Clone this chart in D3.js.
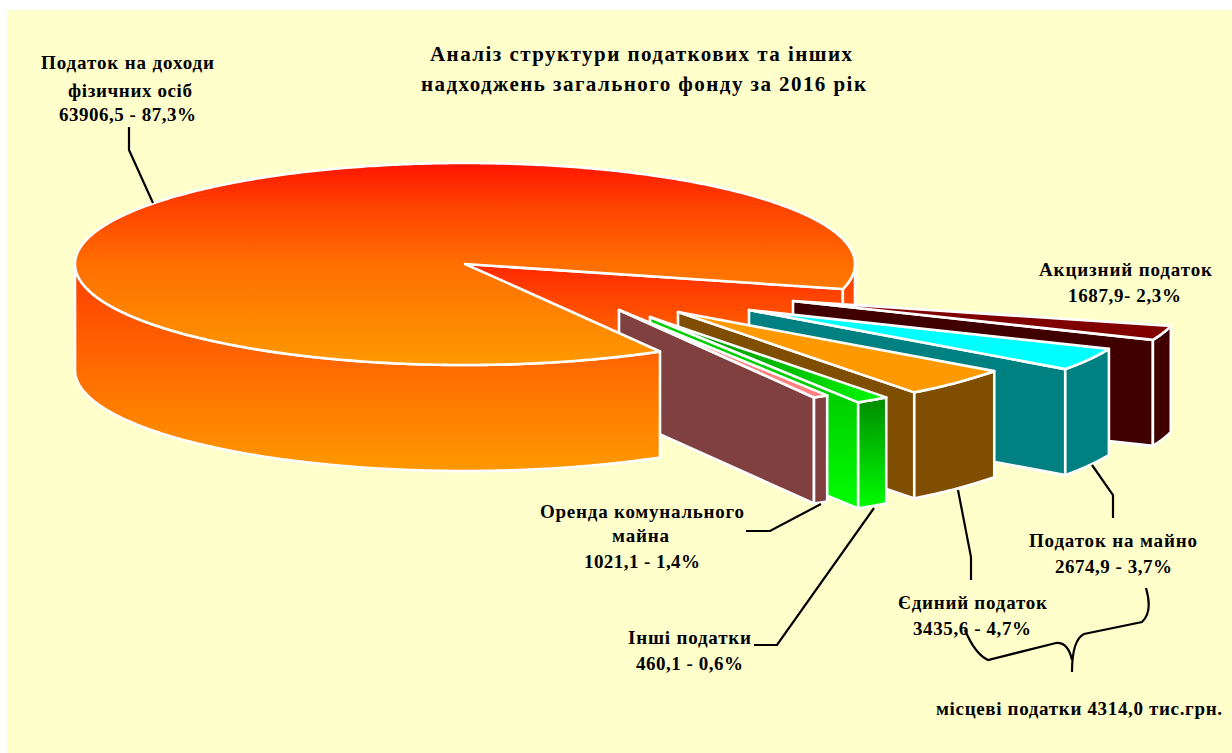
<!DOCTYPE html>
<html><head><meta charset="utf-8">
<script src="https://cdn.jsdelivr.net/npm/d3@7/dist/d3.min.js"></script>
<style>html,body{margin:0;padding:0;background:#fff}svg{display:block}</style>
</head><body><svg id="c" width="1232" height="753"></svg>
<script>
// ---- data ----
const categories = ["Податок на доходи фізичних осіб","Акцизний податок","Податок на майно","Єдиний податок","Оренда комунального майна","Інші податки"];
const values = [63906.5, 1687.9, 2674.9, 3435.6, 1021.1, 460.1];
const titleLines = ["Аналіз структури податкових та інших","надходжень загального фонду за 2016 рік"];

// ---- layout and style ----
const W = 1232, H = 753;
const rx = 390, ry = 101, depth = 106;
const firstAngle = 150 * Math.PI / 180;
const apexes = [[465,264],[793,301],[749,310],[678,312],[650,317],[619,310]];
const topFills = ["url(#bigTop)","#800000","#00FFFF","#FF9900","url(#greenTop)","#FF8080"];
const endFills = ["url(#bigInner)","#400000","#008080","#7F4E00","url(#greenInner)","#804040"];
const outerFills = ["url(#bigWall)","#400000","#008080","#7F4E00","url(#greenOuter)","#804040"];
const labels = [
 {t:titleLines[0],x0:430,x1:852,y:61,s:21},
 {t:titleLines[1],x0:421,x1:866,y:91,s:21},
 {t:"Податок на доходи",x0:41,x1:214,y:69,s:19},
 {t:"фізичних осіб",x0:68,x1:192,y:97,s:19},
 {t:"63906,5 - 87,3%",x0:59,x1:196,y:121,s:19},
 {t:"Акцизний податок",x0:1039,x1:1212,y:276,s:19},
 {t:"1687,9- 2,3%",x0:1068,x1:1181,y:302,s:19},
 {t:"Оренда комунального",x0:540,x1:744,y:518,s:19},
 {t:"майна",x0:612,x1:669,y:542,s:19},
 {t:"1021,1 - 1,4%",x0:584,x1:700,y:568,s:19},
 {t:"Інші податки",x0:628,x1:751,y:644,s:19},
 {t:"460,1 - 0,6%",x0:636,x1:743,y:670,s:19},
 {t:"Податок на майно",x0:1029,x1:1197,y:547,s:19},
 {t:"2674,9 - 3,7%",x0:1055,x1:1172,y:573,s:19},
 {t:"Єдиний податок",x0:898,x1:1047,y:609,s:19},
 {t:"3435,6 - 4,7%",x0:913,x1:1031,y:635,s:19},
 {t:"місцеві податки 4314,0 тис.грн.",x0:936,x1:1222,y:715,s:19}
];
const leaders = [
 [[129,127],[129,150],[153,203]],
 [[821,504],[770,531],[746,531]],
 [[874,508],[777,645],[754,645]],
 [[958,490],[971,557],[971,580]],
 [[1092,465],[1113,495],[1113,518]]
];

const svg = d3.select("#c");
svg.append("rect").attr("x",7).attr("y",10).attr("width",W-7).attr("height",H-10).attr("fill","#FFFFCC");

const defs = svg.append("defs");
function grad(id, x1,y1,x2,y2, stops){
  const g = defs.append("linearGradient").attr("id",id).attr("gradientUnits","userSpaceOnUse")
    .attr("x1",x1).attr("y1",y1).attr("x2",x2).attr("y2",y2);
  stops.forEach(s=>g.append("stop").attr("offset",s[0]).attr("stop-color",s[1]));
}
grad("bigTop",0,163,0,365,[[0,"#FF1400"],[0.2,"#FF4000"],[0.5,"#FF6E00"],[1,"#FF9900"]]);
grad("bigWall",0,264,0,471,[[0,"#FF3C00"],[1,"#FF9900"]]);
grad("bigInner",0,264,0,380,[[0,"#FF2800"],[1,"#FF8800"]]);
grad("greenTop",650,0,885,0,[[0,"#008000"],[0.6,"#00C000"],[1,"#00FF00"]]);
grad("greenInner",0,400,0,508,[[0,"#00D000"],[1,"#00FF00"]]);
grad("greenOuter",0,397,0,510,[[0,"#008A00"],[1,"#00FF00"]]);

const pie = d3.pie().sort(null).startAngle(firstAngle).endAngle(firstAngle + 2*Math.PI);
const arcs = pie(values);
const xs = d3.scaleLinear().domain([-1,1]).range([-rx,rx]);
const ys = d3.scaleLinear().domain([-1,1]).range([-ry,ry]);
const line = d3.line();
const rim = (c,a) => [c[0] + xs(Math.sin(a)), c[1] + ys(-Math.cos(a))];
const arcPts = (c,a0,a1,dy=0) => {
  const n = Math.max(2, Math.ceil(Math.abs(a1-a0)/0.01));
  return d3.range(n+1).map(i => { const p = rim(c, a0+(a1-a0)*i/n); return [p[0], p[1]+dy]; });
};
function runs(a0,a1){
  const cuts=[a0];
  for(let k=0;k<6;k++){ const b=Math.PI/2+k*Math.PI; if(b>a0&&b<a1) cuts.push(b); }
  cuts.push(a1);
  const out=[];
  for(let i=0;i<cuts.length-1;i++){ if(Math.cos((cuts[i]+cuts[i+1])/2)<0) out.push([cuts[i],cuts[i+1]]); }
  return out;
}
const st = s => s.attr("stroke","#fff").attr("stroke-width",2.6).attr("stroke-linejoin","round");
const slices = svg.append("g").attr("class","slices");

function drawEnd(g,d,i){
  const c = apexes[i], e = rim(c,d.endAngle);
  st(g.append("path").attr("d", line([c,e,[e[0],e[1]+depth],[c[0],c[1]+depth]])+"Z").attr("fill",endFills[i]));
}
function drawRim(g,r,i){
  const c = apexes[i];
  st(g.append("path").attr("d",line(arcPts(c,r[0],r[1]).concat(arcPts(c,r[1],r[0],depth)))+"Z").attr("fill",outerFills[i]));
}
function drawTop(g,d,i){
  const c = apexes[i];
  st(g.append("path").attr("d",line([c].concat(arcPts(c,d.startAngle,d.endAngle)))+"Z").attr("fill",topFills[i]));
}
// big slice: its inner wall and short right rim lie behind the exploded slices
const back = slices.append("g");
const bigRuns = runs(arcs[0].startAngle,arcs[0].endAngle);
drawEnd(back,arcs[0],0);
drawRim(back,bigRuns[1],0);
// exploded slices, back to front
arcs.slice(1).forEach((d,k)=>{
  const i=k+1, g=slices.append("g");
  drawEnd(g,d,i);
  runs(d.startAngle,d.endAngle).forEach(r=>drawRim(g,r,i));
  drawTop(g,d,i);
});
// big slice front rim and top face overlap the roots of the exploded slices
const front = slices.append("g");
drawRim(front,bigRuns[0],0);
drawTop(front,arcs[0],0);

const lead = svg.append("g").attr("fill","none").attr("stroke","#000").attr("stroke-width",2.2);
leaders.forEach(l=>lead.append("path").attr("d",line(l)));
const br = d3.path();
br.moveTo(1146,588); br.quadraticCurveTo(1153,612,1142,622); br.lineTo(1084,634); br.quadraticCurveTo(1072,640,1072,672);
br.moveTo(965,630); br.quadraticCurveTo(975,654,988,660); br.lineTo(1056,643); br.quadraticCurveTo(1068,642,1072,660);
lead.append("path").attr("d",br.toString());

svg.append("g").selectAll("text").data(labels).join("text")
  .attr("x",d=>d.x0).attr("y",d=>d.y)
  .attr("textLength",d=>d.x1-d.x0).attr("lengthAdjust","spacing")
  .attr("font-family","'Liberation Serif','Times New Roman',serif").attr("font-weight","bold")
  .attr("font-size",d=>d.s).attr("fill","#000").text(d=>d.t);
</script></body></html>
